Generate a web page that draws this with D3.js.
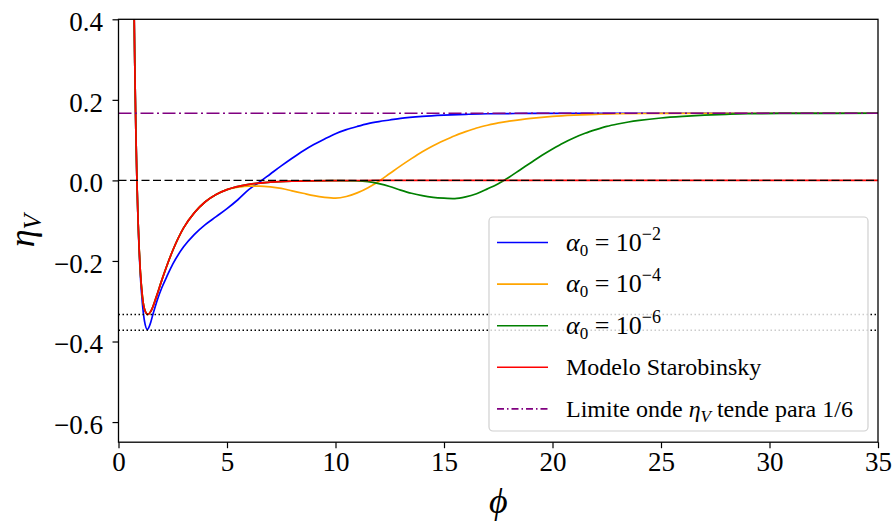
<!DOCTYPE html>
<html>
<head>
<meta charset="utf-8">
<script src="https://cdn.jsdelivr.net/npm/d3@7"></script>
<style>
  body { margin: 0; background: #fff; }
  svg { display: block; }
</style>
</head>
<body>
<svg id="chart" width="896" height="525"></svg>
<script>
// eta_V as a function of phi for each model
const phiRed = [0.70,0.72,0.75,0.80,0.85,0.90,0.95,1.00,1.10,1.20,1.35,1.50,1.75,2.00,2.50,3.00,3.50,4.00,4.50,5.00,6.00,7.00,8.00,10.0,12.0,15.0,20.0,35.0];
const etaRed = [0.514,0.416,0.291,0.123,-0.002,-0.097,-0.167,-0.220,-0.287,-0.320,-0.333,-0.324,-0.288,-0.247,-0.174,-0.118,-0.080,-0.053,-0.035,-0.023,-0.010,-0.0045,-0.002,-0.0005,-0.0001,0,0,0];

const phiBlue = [0.70,0.72,0.75,0.80,0.85,0.90,0.95,1.00,1.10,1.20,1.33,1.45,1.60,1.80,2.00,2.25,2.50,3.00,3.50,4.00,4.50,5.00,5.50,6.00,6.50,7.00,7.50,8.00,8.50,9.00,9.50,10.0,10.5,11.0,11.5,12.0,12.5,13.0,14.0,15.0,16.0,17.0,19.0,22.0,35.0];
const etaBlue = [0.514,0.416,0.291,0.123,-0.004,-0.100,-0.172,-0.230,-0.305,-0.350,-0.370,-0.358,-0.330,-0.295,-0.266,-0.236,-0.208,-0.165,-0.134,-0.110,-0.090,-0.070,-0.048,-0.023,-0.004,0.016,0.036,0.055,0.073,0.089,0.103,0.116,0.126,0.134,0.141,0.146,0.150,0.154,0.159,0.162,0.164,0.1655,0.1663,0.1667,0.1667];

const phiOrange = [0.70,0.72,0.75,0.80,0.85,0.90,0.95,1.00,1.10,1.20,1.35,1.50,1.75,2.00,2.50,3.00,3.50,4.00,4.50,5.00,5.50,6.00,6.50,7.00,7.50,8.00,8.50,9.00,9.50,10.0,10.5,11.0,11.5,12.0,12.5,13.0,13.5,14.0,14.5,15.0,15.5,16.0,16.5,17.0,17.5,18.0,19.0,20.0,21.0,22.0,23.0,25.0,28.0,35.0];
const etaOrange = [0.514,0.416,0.291,0.123,-0.002,-0.097,-0.167,-0.220,-0.287,-0.320,-0.333,-0.324,-0.288,-0.247,-0.174,-0.118,-0.080,-0.053,-0.035,-0.023,-0.017,-0.014,-0.014,-0.016,-0.020,-0.026,-0.032,-0.038,-0.042,-0.044,-0.040,-0.031,-0.018,-0.002,0.017,0.036,0.054,0.071,0.086,0.099,0.111,0.121,0.130,0.137,0.143,0.147,0.154,0.159,0.162,0.164,0.1655,0.1663,0.1667,0.1667];

const phiGreen = [0.70,0.72,0.75,0.80,0.85,0.90,0.95,1.00,1.10,1.20,1.35,1.50,1.75,2.00,2.50,3.00,3.50,4.00,4.50,5.00,6.00,7.00,8.00,10.0,11.0,11.5,12.0,12.5,13.0,13.5,14.0,14.5,15.0,15.5,16.0,16.5,17.0,17.5,18.0,18.5,19.0,19.5,20.0,20.5,21.0,21.5,22.0,22.5,23.0,23.5,24.0,25.0,26.0,27.0,28.0,29.0,31.0,35.0];
const etaGreen = [0.514,0.416,0.291,0.123,-0.002,-0.097,-0.167,-0.220,-0.287,-0.320,-0.333,-0.324,-0.288,-0.247,-0.174,-0.118,-0.080,-0.053,-0.035,-0.023,-0.010,-0.0045,-0.002,-0.0005,-0.001,-0.003,-0.008,-0.015,-0.024,-0.032,-0.038,-0.042,-0.044,-0.045,-0.041,-0.033,-0.021,-0.008,0.008,0.026,0.044,0.062,0.078,0.093,0.106,0.117,0.126,0.134,0.140,0.145,0.149,0.155,0.159,0.162,0.164,0.1655,0.1665,0.1667];

// Horizontal reference levels
const zeroLevel = 0;
const limitLevel = 1 / 6;
const minLevels = [-0.333, -0.372];

// Axis ticks
const xTicks = [0, 5, 10, 15, 20, 25, 30, 35];
const yTicks = [-0.6, -0.4, -0.2, 0.0, 0.2, 0.4];

const FONT = "Liberation Serif";

const svg = d3.select("#chart");
const x = d3.scaleLinear().domain([0, 35]).range([118.5, 878]);
const y = d3.scaleLinear().domain([-0.65, 0.4]).range([442.2, 19.3]);

svg.append("defs").append("clipPath").attr("id", "plot-clip")
  .append("rect")
  .attr("x", x(0)).attr("y", y(0.4))
  .attr("width", x(35) - x(0)).attr("height", y(-0.65) - y(0.4));

const plot = svg.append("g").attr("clip-path", "url(#plot-clip)");

const line = d3.line().x(d => x(d[0])).y(d => y(d[1])).curve(d3.curveMonotoneX);
const zip = (a, b) => a.map((v, i) => [v, b[i]]);

const series = [
  { phi: phiBlue, eta: etaBlue, color: "#0000ff" },
  { phi: phiOrange, eta: etaOrange, color: "#ffa500" },
  { phi: phiGreen, eta: etaGreen, color: "#008000" },
  { phi: phiRed, eta: etaRed, color: "#ff0000" }
];

series.forEach(s => {
  plot.append("path")
    .datum(zip(s.phi, s.eta))
    .attr("fill", "none")
    .attr("stroke", s.color)
    .attr("stroke-width", 1.7)
    .attr("stroke-linejoin", "round")
    .attr("d", line);
});

// zero line, limit line and minimum markers
plot.append("line")
  .attr("x1", x(0)).attr("x2", x(35))
  .attr("y1", y(zeroLevel)).attr("y2", y(zeroLevel))
  .attr("stroke", "#000").attr("stroke-width", 1.4)
  .attr("stroke-dasharray", "8,3.5");

plot.append("line")
  .attr("x1", x(0)).attr("x2", x(35))
  .attr("y1", y(limitLevel)).attr("y2", y(limitLevel))
  .attr("stroke", "#800080").attr("stroke-width", 1.4)
  .attr("stroke-dasharray", "13,3.5,2,3.5");

minLevels.forEach(v => {
  plot.append("line")
    .attr("x1", x(0)).attr("x2", x(35))
    .attr("y1", y(v)).attr("y2", y(v))
    .attr("stroke", "#000").attr("stroke-width", 1.4)
    .attr("stroke-dasharray", "1.5,2.5");
});

// Axes
const xAxis = svg.append("g")
  .attr("transform", `translate(0,${y(-0.65)})`)
  .call(d3.axisBottom(x).tickValues(xTicks).tickSize(6).tickPadding(4).tickFormat(d3.format("d")));
const yAxis = svg.append("g")
  .attr("transform", `translate(${x(0)},0)`)
  .call(d3.axisLeft(y).tickValues(yTicks).tickSize(6).tickPadding(9.5).tickFormat(d3.format(".1f")));

[xAxis, yAxis].forEach(g => {
  g.attr("font-family", FONT).attr("font-size", 27);
  g.select(".domain").remove();
  g.selectAll(".tick line").attr("stroke", "#000").attr("stroke-width", 1.2);
  g.selectAll(".tick text")
    .attr("font-family", FONT)
    .attr("font-size", 27)
    .attr("fill", "#000");
});
yAxis.selectAll(".tick text").attr("dy", "0.42em");
xAxis.selectAll(".tick text").attr("dy", "0.68em");

// frame
svg.append("rect")
  .attr("x", x(0)).attr("y", y(0.4))
  .attr("width", x(35) - x(0)).attr("height", y(-0.65) - y(0.4))
  .attr("fill", "none").attr("stroke", "#000").attr("stroke-width", 1.3);

// axis labels
const ylab = svg.append("text")
  .attr("transform", `translate(34,${(y(0.4) + y(-0.65)) / 2}) rotate(-90)`)
  .attr("text-anchor", "middle")
  .attr("font-family", FONT)
  .attr("font-size", 36);
ylab.append("tspan").attr("font-style", "italic").text("η");
ylab.append("tspan").attr("font-style", "italic").attr("font-size", 25).attr("dy", 7).text("V");

svg.append("text")
  .attr("x", (x(0) + x(35)) / 2).attr("y", 513)
  .attr("text-anchor", "middle")
  .attr("font-family", FONT)
  .attr("font-size", 36).attr("font-style", "italic")
  .text("ϕ");

// Legend
const legend = svg.append("g");
legend.append("rect")
  .attr("x", 489).attr("y", 217).attr("width", 379).attr("height", 214)
  .attr("rx", 4).attr("ry", 4)
  .attr("fill", "#fff").attr("fill-opacity", 0.8)
  .attr("stroke", "#d0d0d0").attr("stroke-width", 1.2);

const legendItems = [
  { color: "#0000ff", dash: null, kind: "alpha", exp: "−2" },
  { color: "#ffa500", dash: null, kind: "alpha", exp: "−4" },
  { color: "#008000", dash: null, kind: "alpha", exp: "−6" },
  { color: "#ff0000", dash: null, kind: "plain", label: "Modelo Starobinsky" },
  { color: "#800080", dash: "7,3,1.5,3", kind: "limit" }
];

legendItems.forEach((it, i) => {
  const cy = 242.5 + i * 41.6;
  legend.append("line")
    .attr("x1", 497).attr("x2", 548)
    .attr("y1", cy).attr("y2", cy)
    .attr("stroke", it.color).attr("stroke-width", 1.6)
    .attr("stroke-dasharray", it.dash);
  const t = legend.append("text").attr("x", 566).attr("y", cy + 8)
    .attr("font-family", FONT).attr("font-size", 24).attr("fill", "#000");
  if (it.kind === "alpha") {
    t.append("tspan").attr("font-style", "italic").attr("font-size", 26).text("α");
    t.append("tspan").attr("font-size", 17).attr("dy", 5).text("0");
    t.append("tspan").attr("dy", -5).attr("font-size", 26).text(" = 10");
    t.append("tspan").attr("font-size", 18).attr("dy", -11).text(it.exp);
  } else if (it.kind === "plain") {
    t.text(it.label);
  } else {
    t.append("tspan").text("Limite onde ");
    t.append("tspan").attr("font-style", "italic").text("η");
    t.append("tspan").attr("font-style", "italic").attr("font-size", 17).attr("dy", 5).text("V");
    t.append("tspan").attr("dy", -5).text(" tende para 1/6");
  }
});
</script>
</body>
</html>
